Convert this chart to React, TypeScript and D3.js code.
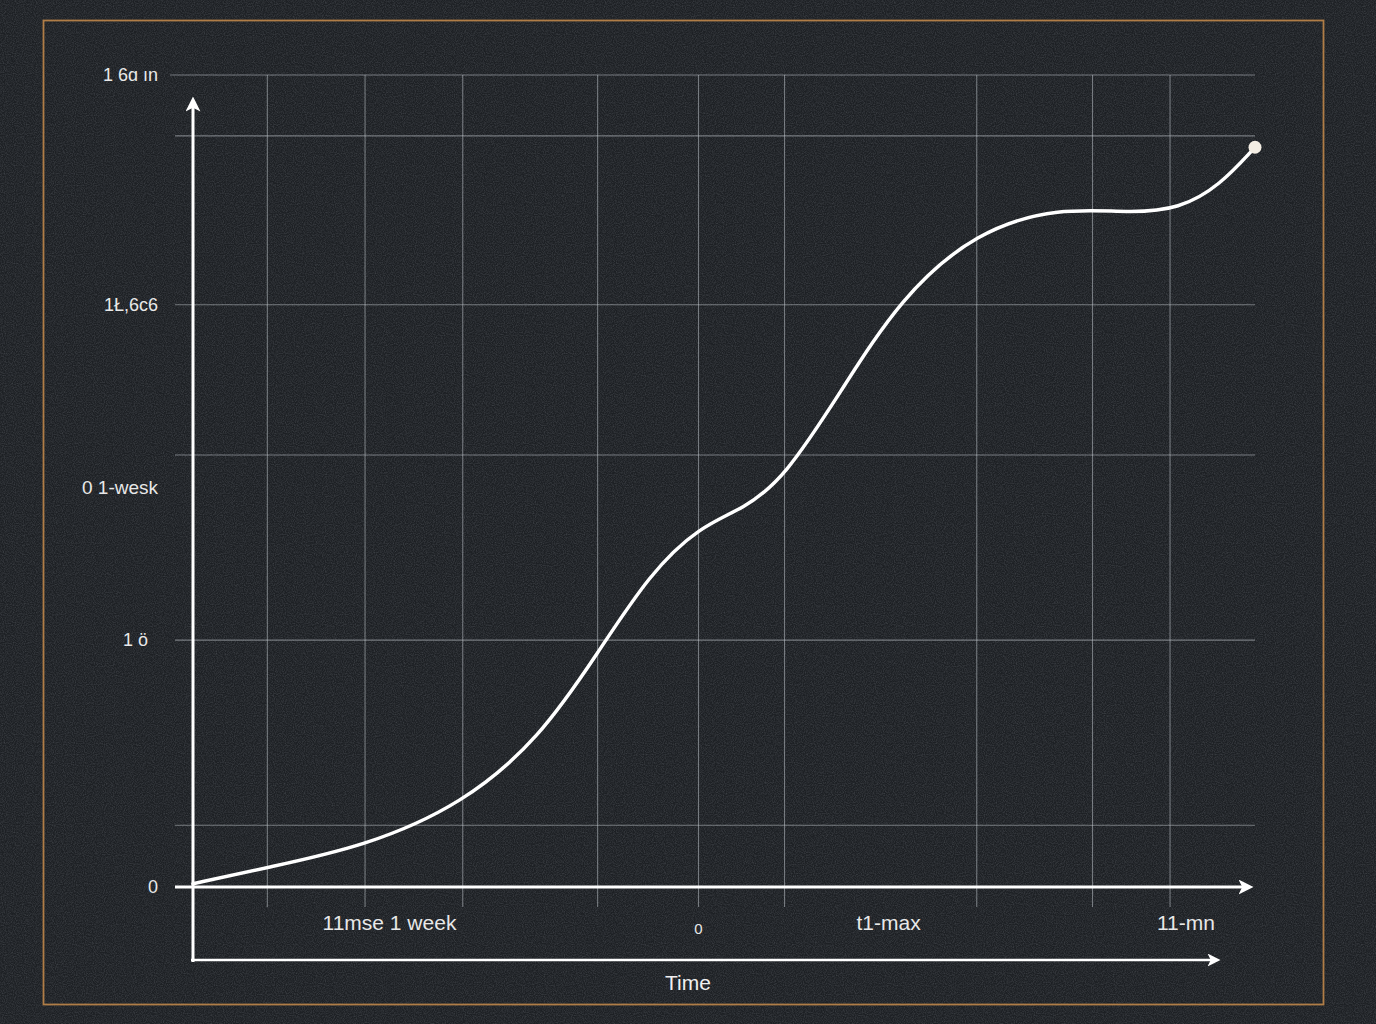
import React from "react";
import * as d3 from "d3";

const W = 1376;
const H = 1024;

// Curve data: time (0..100) vs value (0..100)
const curveX = [0, 7, 16.2, 25.4, 32.7, 38.1, 43.0, 47.7, 51.9, 55.7, 60.9, 66.6, 73.8, 81.6, 88.2, 92.9, 96.7, 100];
const curveY = [0.4, 2.4, 5.0, 10.2, 18.4, 28.8, 38.6, 44.4, 46.6, 50.4, 60.8, 72.6, 80.8, 83.7, 83.0, 83.5, 86.4, 91.1];

const gridX = [7, 16.2, 25.4, 38.1, 47.6, 55.7, 73.8, 84.7, 92];
const gridY = [100, 92.5, 71.7, 53.2, 30.4, 7.6];

const yTickValues = [100, 71.7, 49.2, 30.4, 0];
const yTickLabels = ["1 6ɑ ın", "1Ł,6c6", "0 1-wesk", "1 ö", "0"];

const xTickValues = [18.5, 47.6, 65.5, 93.5];
const xTickLabels = ["11mse 1 week", "0", "t1-max", "11-mn"];

const xTitle = "Time";

export default function App() {
  const x = d3.scaleLinear().domain([0, 100]).range([193, 1255]);
  const y = d3.scaleLinear().domain([0, 100]).range([887, 75]);
  const pts: [number, number][] = curveX.map((v, i) => [x(v), y(curveY[i])]);
  const line = d3.line().curve(d3.curveBasis)(pts) || "";
  const last = pts[pts.length - 1];
  const font = "'Liberation Sans', Arial, sans-serif";
  const gridColor = "rgba(200,205,212,0.5)";

  return (
    <svg width={W} height={H} style={{ position: "absolute", left: 0, top: 0, display: "block" }}>
      <defs>
        <filter id="noise" x="0" y="0" width="100%" height="100%">
          <feTurbulence type="fractalNoise" baseFrequency="0.9" numOctaves="2" seed="3" result="t" />
          <feColorMatrix type="matrix" values="0 0 0 0 0.45  0 0 0 0 0.48  0 0 0 0 0.53  0 0 0 0.35 -0.12" />
        </filter>
        <marker id="arrow" viewBox="0 0 10 10" refX="5" refY="5" markerWidth="5" markerHeight="5" orient="auto">
          <path d="M0,0 L10,5 L0,10 L2.5,5 Z" fill="#ffffff" />
        </marker>
      </defs>
      <rect x={0} y={0} width={W} height={H} fill="#1d2024" />
      <rect x={0} y={0} width={W} height={H} filter="url(#noise)" />
      <rect x={43.5} y={20.5} width={1280} height={984} fill="none" stroke="#b07d47" strokeWidth={1.8} />

      {gridY.map((v, i) => (
        <line key={"gy" + i} x1={i === 0 ? 170 : 175} x2={1255} y1={y(v)} y2={y(v)} stroke={gridColor} strokeWidth={1.1} />
      ))}
      {gridX.map((v, i) => (
        <line key={"gx" + i} x1={x(v)} x2={x(v)} y1={75} y2={907} stroke={gridColor} strokeWidth={1.1} />
      ))}

      {/* axes */}
      <line x1={193} x2={193} y1={962} y2={104} stroke="#fff" strokeWidth={3} markerEnd="url(#arrow)" />
      <line x1={175} x2={1246} y1={887} y2={887} stroke="#fff" strokeWidth={3} markerEnd="url(#arrow)" />
      <line x1={191} x2={1214} y1={960} y2={960} stroke="#fff" strokeWidth={2.6} markerEnd="url(#arrow)" />

      <path d={line} fill="none" stroke="#ffffff" strokeWidth={3.5} strokeLinecap="round" />
      <circle cx={last[0]} cy={last[1]} r={6.5} fill="#f4eee4" />

      {yTickValues.map((v, i) => (
        <text key={"yt" + i} x={i === 3 ? 148 : 158} y={y(v)} dy="0.35em" textAnchor="end" fill="#e8e8e8" fontFamily={font} fontSize={i === 2 ? 19 : 18}>
          {yTickLabels[i]}
        </text>
      ))}
      {xTickValues.map((v, i) => (
        <text key={"xt" + i} x={x(v)} y={i === 1 ? 934 : 930} textAnchor="middle" fill="#e8e8e8" fontFamily={font} fontSize={i === 1 ? 15 : 21}>
          {xTickLabels[i]}
        </text>
      ))}
      <text x={688} y={990} textAnchor="middle" fill="#f0f0f0" fontFamily={font} fontSize={21}>
        {xTitle}
      </text>
    </svg>
  );
}
